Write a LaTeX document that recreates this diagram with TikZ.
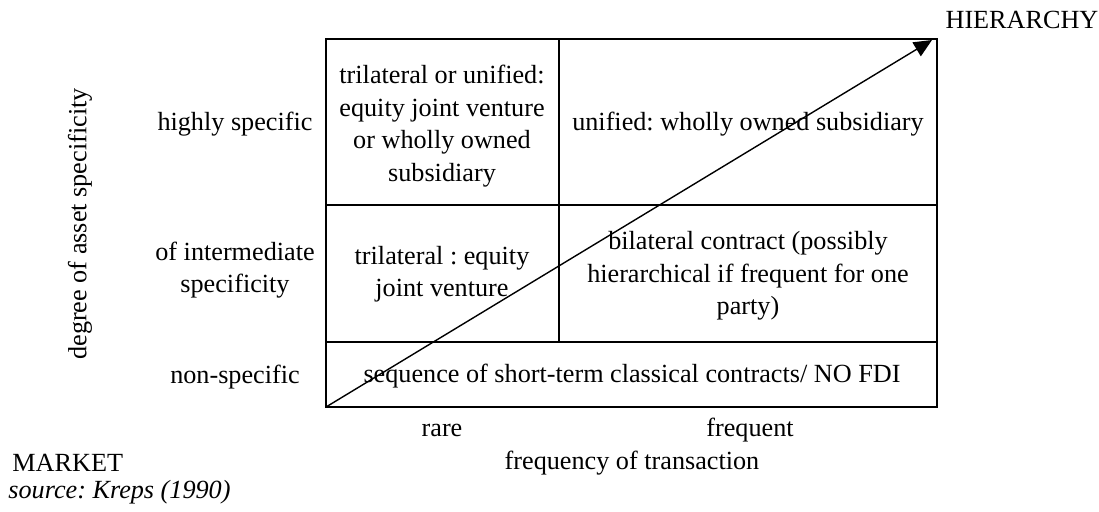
\documentclass[tikz,border=0pt]{standalone}
\usepackage{fontspec}
\setmainfont{Liberation Serif}
\usetikzlibrary{positioning,arrows.meta}
\frenchspacing

\begin{document}
\begin{tikzpicture}[x=0.5pt, y=-0.5pt,
    grid/.style={line width=1.4pt},
    cell/.style={align=center, font=\fontsize{13.1}{16.3}\selectfont, inner sep=0pt},
    lbl/.style={font=\fontsize{13.1}{16.3}\selectfont, inner sep=0pt}]
    \useasboundingbox (0,0) rectangle (1099,511);
    % matrix frame
    \coordinate (bl) at (326,407);
    \coordinate (tr) at (937,39);
    \draw[grid] (bl) rectangle (tr);
    \draw[grid] (326,205) -- (937,205);
    \draw[grid] (326,342) -- (937,342);
    \draw[grid] (559,39) -- (559,342);
    % cells
    \node[cell] (hiRare) at (442,126) {trilateral or unified:\\equity joint venture\\or wholly owned\\subsidiary};
    \node[cell] (hiFreq) at (748,124) {unified: wholly owned subsidiary};
    \node[cell] (midRare) at (442,274) {trilateral : equity\\joint venture};
    \node[cell] (midFreq) at (748,276) {bilateral contract (possibly\\hierarchical if frequent for one\\party)};
    \node[cell] (non) at (632,376) {sequence of short-term classical contracts/ NO FDI};
    % row and column labels
    \node[lbl] (rHigh) at (235,124) {highly specific};
    \node[cell] (rMid) at (235,270) {of intermediate\\specificity};
    \node[lbl] (rNon) at (235,377) {non-specific};
    \node[lbl, rotate=90] (yAxis) at (80,224) {degree of asset specificity};
    \node[lbl] (cRare) at (442,430) {rare};
    \node[lbl] (cFreq) at (750,430) {frequent};
    \node[lbl] (xAxis) at (632,463) {frequency of transaction};
    \node[lbl, anchor=west] (mkt) at (12,463) {MARKET};
    \node[lbl] (hier) at (1022,20) {HIERARCHY};
    \node[lbl, anchor=west, font=\fontsize{13.1}{16.3}\selectfont\itshape] (src) at (8,492) {source: Kreps (1990)};
    % market to hierarchy
    \draw[line width=0.7pt, -{Triangle[length=9pt,width=8pt]}] (bl) -- (932,40);
  \end{tikzpicture}
\end{document}
